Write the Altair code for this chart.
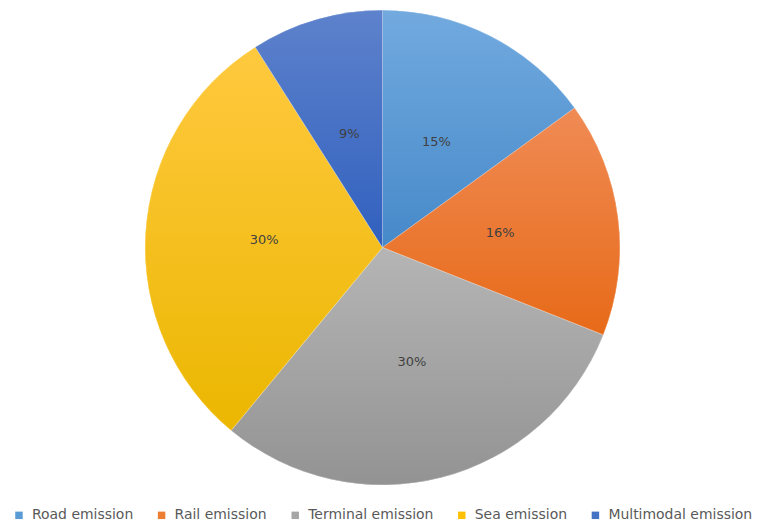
import altair as alt
import pandas as pd

categories = ["Road emission", "Rail emission", "Terminal emission", "Sea emission", "Multimodal emission"]
values = [15, 16, 30, 30, 9]
labels = ["15%", "16%", "30%", "30%", "9%"]
order = [0, 1, 2, 3, 4]

base_colors = ["#5B9BD5", "#ED7D31", "#A5A5A5", "#FFC000", "#4472C4"]
grad_top = ["#72AADF", "#F08B55", "#B5B5B5", "#FFC93F", "#5E82CC"]
grad_bottom = ["#4689C9", "#E76A18", "#939393", "#EBB700", "#3060BE"]

df = pd.DataFrame({"category": categories, "value": values, "label": labels, "order": order})

R = 238
theta_scale = alt.Scale(domain=[0, 100])

base = alt.Chart(df).transform_window(
    cum="sum(value)", sort=[alt.SortField("order")], frame=[None, 0]
).transform_calculate(
    start="datum.cum - datum.value",
    mid="datum.cum - datum.value / 2",
)

legend_layer = base.mark_arc(outerRadius=R).encode(
    theta=alt.Theta("start:Q", scale=theta_scale),
    theta2="cum:Q",
    color=alt.Color(
        "category:N",
        scale=alt.Scale(domain=categories, range=base_colors),
        sort=categories,
        legend=alt.Legend(
            title=None,
            orient="none",
            legendX=-1,
            legendY=500,
            direction="horizontal",
            symbolType="square",
            symbolSize=56,
            symbolStrokeWidth=0,
            labelFont="DejaVu Sans",
            labelFontSize=14,
            labelColor="#595959",
            labelOffset=6,
            columnPadding=21,
            padding=0,
        ),
    ),
)

layers = [legend_layer]
for i, c in enumerate(categories):
    g = alt.Gradient(
        gradient="linear",
        stops=[
            alt.GradientStop(color=grad_top[i], offset=0),
            alt.GradientStop(color=grad_bottom[i], offset=1),
        ],
        x1=0, x2=0, y1=0, y2=1,
    )
    layers.append(
        base.transform_filter(alt.datum.category == c)
        .mark_arc(outerRadius=R, fill=g, stroke="#ffffff", strokeWidth=0.5, strokeOpacity=0.6)
        .encode(theta=alt.Theta("start:Q", scale=theta_scale), theta2="cum:Q")
    )

text_layer = base.mark_text(radius=119, font="DejaVu Sans", fontSize=13, color="#404040").encode(
    theta=alt.Theta("mid:Q", scale=theta_scale),
    text="label:N",
)
layers.append(text_layer)

chart = alt.layer(*layers).properties(
    width=741, height=477,
    padding={"left": 4, "top": 0, "right": 0, "bottom": 0},
).configure_view(stroke=None)

chart.save("out.html", embed_options={"renderer": "svg", "actions": False})
